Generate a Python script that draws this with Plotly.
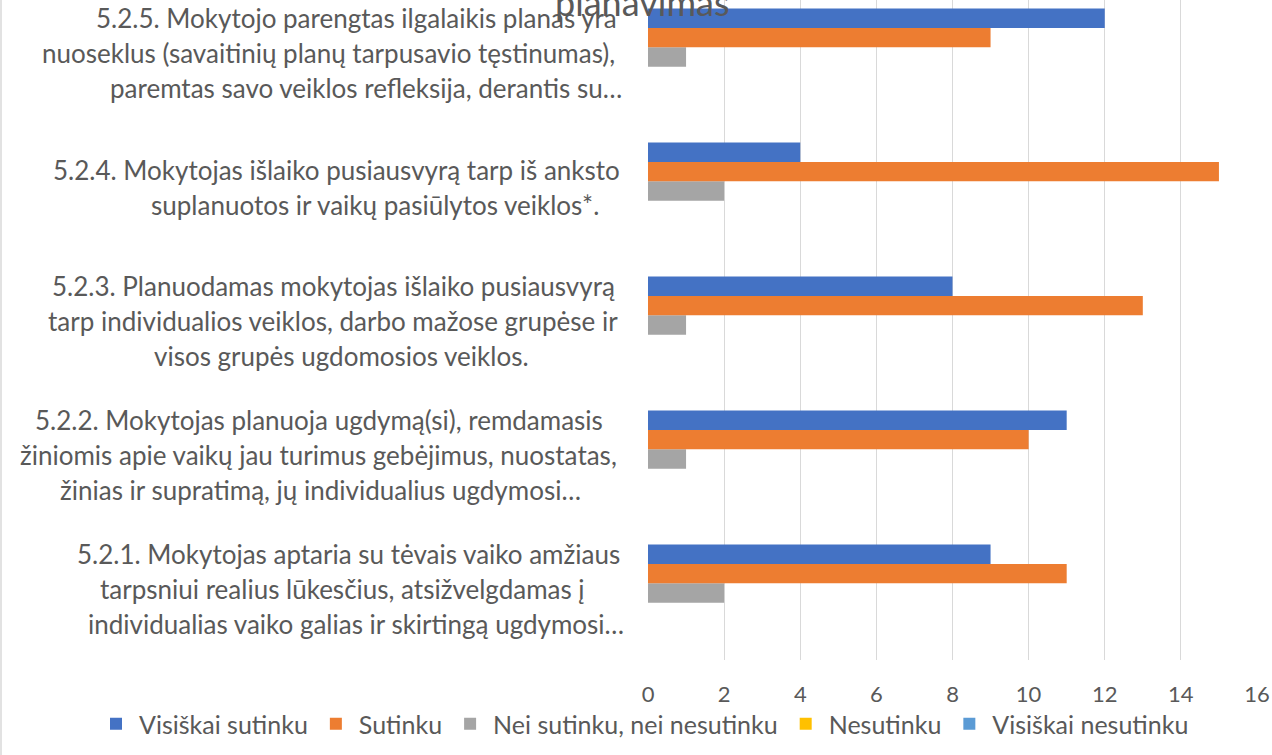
import plotly.graph_objects as go

# ---- data ----
categories = ["5.2.1", "5.2.2", "5.2.3", "5.2.4", "5.2.5"]
label_lines = [
    ["5.2.1. Mokytojas aptaria su tėvais vaiko amžiaus",
     "tarpsniui realius lūkesčius, atsižvelgdamas į",
     "individualias vaiko galias ir skirtingą ugdymosi…"],
    ["5.2.2. Mokytojas planuoja ugdymą(si), remdamasis",
     "žiniomis apie vaikų jau turimus gebėjimus, nuostatas,",
     "žinias ir supratimą, jų individualius ugdymosi…"],
    ["5.2.3. Planuodamas mokytojas išlaiko pusiausvyrą",
     "tarp individualios veiklos, darbo mažose grupėse ir",
     "visos grupės ugdomosios veiklos."],
    ["5.2.4. Mokytojas išlaiko pusiausvyrą tarp iš anksto",
     "suplanuotos ir vaikų pasiūlytos veiklos*."],
    ["5.2.5. Mokytojo parengtas ilgalaikis planas yra",
     "nuoseklus (savaitinių planų tarpusavio tęstinumas),",
     "paremtas savo veiklos refleksija, derantis su…"],
]
series_names = ["Visiškai sutinku", "Sutinku", "Nei sutinku, nei nesutinku",
                "Nesutinku", "Visiškai nesutinku"]
visiskai_sutinku = [9, 11, 8, 4, 12]
sutinku = [11, 10, 13, 15, 9]
nei_nei = [2, 1, 1, 2, 1]
nesutinku = [0, 0, 0, 0, 0]
visiskai_nesutinku = [0, 0, 0, 0, 0]
series_values = [visiskai_sutinku, sutinku, nei_nei, nesutinku, visiskai_nesutinku]
x_ticks = [0, 2, 4, 6, 8, 10, 12, 14, 16]
title_fragment = "planavimas"

# ---- style ----
colors = ["#4472C4", "#ED7D31", "#A5A5A5", "#FFC000", "#5B9BD5"]
FONT = "Lato"
TXT = "#595959"
W, H = 1272, 755
ML, MR, MT, MB = 648, 15, 0, 95
PLOT_W = W - ML - MR
PLOT_H = H - MT - MB
BAND = 134.0
# per-line horizontal centres (px) for the category labels
line_centres = [
    [348, 343, 356],
    [319, 318, 320],
    [333, 333, 342],
    [336, 375],
    [356, 328, 366],
]
LINE_SP = 35

fig = go.Figure()
# plotly draws the first horizontal trace at the bottom of the group -> add reversed
for name, vals, col in reversed(list(zip(series_names, series_values, colors))):
    fig.add_trace(go.Bar(
        y=categories, x=vals, name=name, orientation="h",
        marker=dict(color=col, line=dict(width=0)),
    ))

annotations = []
annotations.append(dict(
    text=title_fragment, xref="paper", x=(642 - ML) / PLOT_W, yref="paper", y=1,
    xanchor="center", yanchor="middle", yshift=-2, showarrow=False,
    font=dict(family=FONT, size=36, color=TXT),
))
for cat, lines, centres in zip(categories, label_lines, line_centres):
    n = len(lines)
    for i, (ln, cx) in enumerate(zip(lines, centres)):
        shift = ((n - 1) / 2 - i) * LINE_SP
        annotations.append(dict(
            text=ln, xref="paper", x=(cx - ML) / PLOT_W, yref="y", y=cat,
            xanchor="center", yanchor="middle", yshift=shift + 4,
            showarrow=False, font=dict(family=FONT, size=26, color=TXT),
        ))

top_val = -0.5 + PLOT_H / BAND

fig.update_layout(
    width=W, height=H,
    margin=dict(l=ML, r=MR, t=MT, b=MB, autoexpand=False),
    paper_bgcolor="white", plot_bgcolor="white",
    barmode="group", bargap=0.276, bargroupgap=0,
    font=dict(family=FONT, size=21, color=TXT),
    xaxis=dict(range=[0, 16], tickvals=x_ticks, showgrid=True, automargin=False,
               gridcolor="#D9D9D9", gridwidth=1, zeroline=False,
               showline=False, ticks="", ticklabelstandoff=19,
               tickfont=dict(family=FONT, size=22, color=TXT)),
    yaxis=dict(range=[-0.5, top_val], showticklabels=False, showgrid=False,
               automargin=False, zeroline=False, showline=False, ticks=""),
    legend=dict(orientation="h", xref="paper", x=(93 - ML) / PLOT_W, xanchor="left",
                yref="paper", y=-(724 - PLOT_H) / PLOT_H, yanchor="middle",
                traceorder="reversed",
                font=dict(family=FONT, size=25, color=TXT),
                itemwidth=36, bgcolor="rgba(0,0,0,0)"),
    annotations=annotations,
    shapes=[dict(type="line", xref="paper", yref="paper",
                 x0=(1 - ML) / PLOT_W, x1=(1 - ML) / PLOT_W,
                 y0=-MB / PLOT_H, y1=1,
                 line=dict(color="#D9D9D9", width=1.5))],
    showlegend=True,
)

fig.write_html(
    "out.html",
    config={"displayModeBar": False},
    post_script="document.body.style.margin='0';document.body.style.overflow='hidden';",
)
